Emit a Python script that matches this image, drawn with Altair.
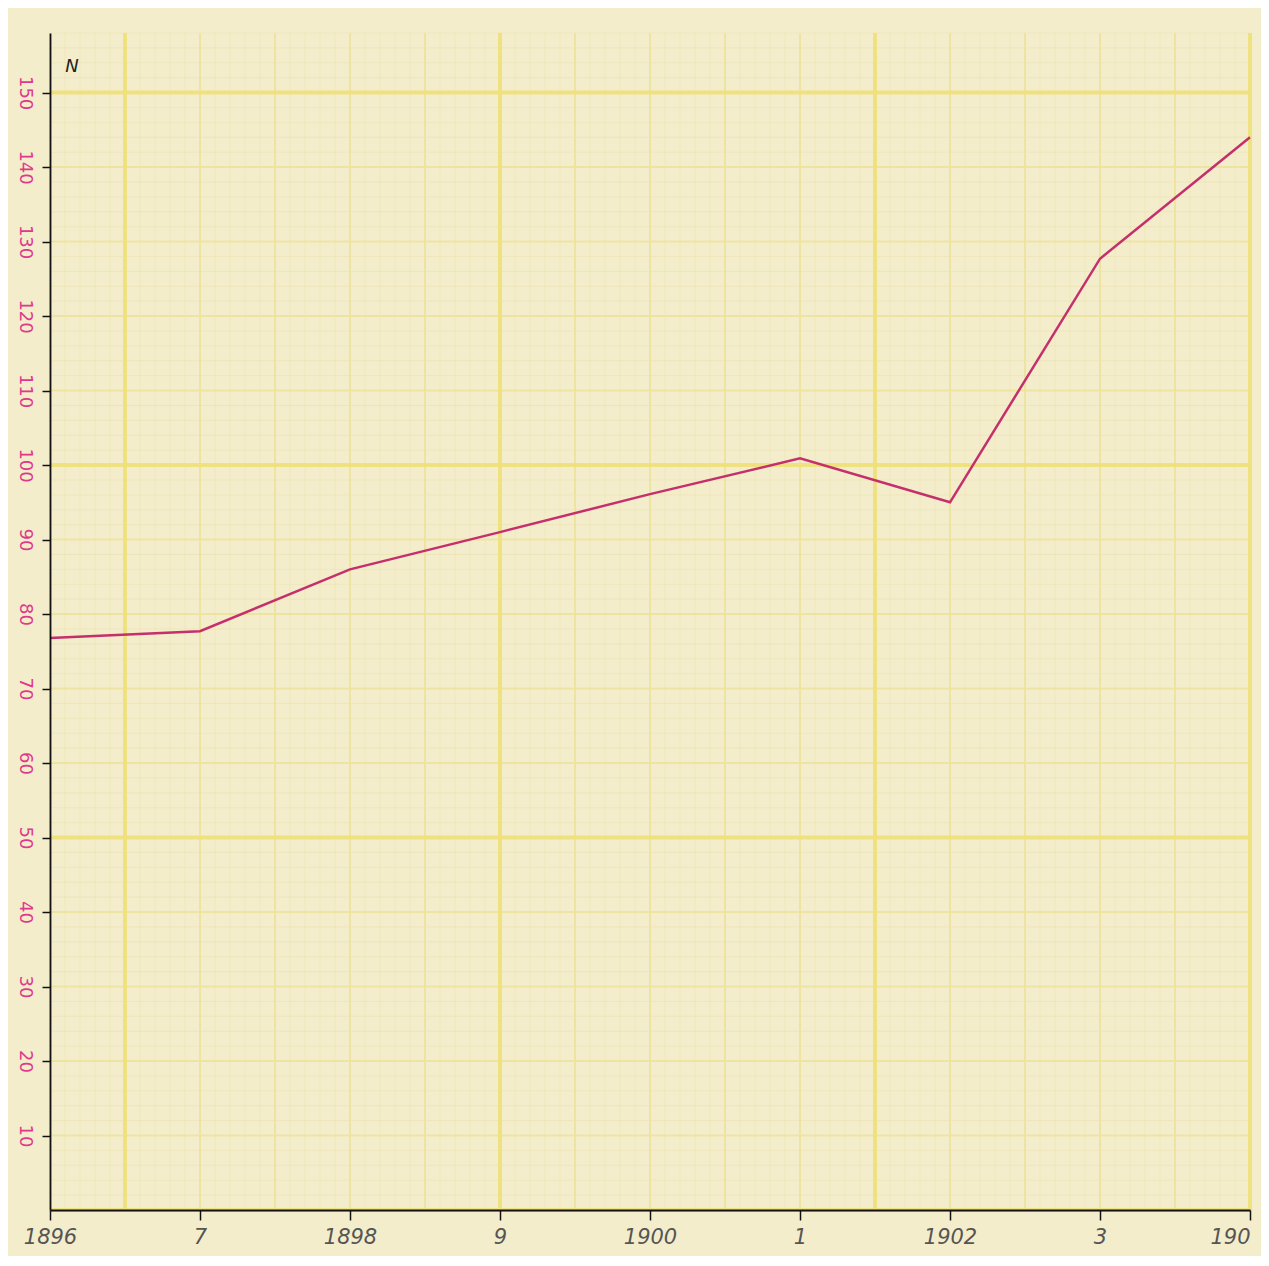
import altair as alt
import pandas as pd

# Data
years = [1896, 1897, 1898, 1899, 1900, 1901, 1902, 1903, 1904]
values = [76.8, 77.7, 86.0, 91.0, 96.1, 100.9, 95.0, 127.7, 144.0]
x_tick_labels = ["1896", "7", "1898", "9", "1900", "1", "1902", "3", "190"]
y_ticks = [10, 20, 30, 40, 50, 60, 70, 80, 90, 100, 110, 120, 130, 140, 150]

X_DOM = [1896, 1904]
Y_DOM = [0, 158]

df = pd.DataFrame({"year": years, "value": values})

xs = alt.Scale(domain=X_DOM, nice=False, zero=False)
ys = alt.Scale(domain=Y_DOM, nice=False, zero=True)

label_map = "{" + ",".join(f"'{y}':'{l}'" for y, l in zip(years, x_tick_labels)) + "}"

x_axis = alt.Axis(values=years, title=None, grid=False, zindex=2,
                  labelExpr=f"{label_map}[datum.value]",
                  labelAlign=alt.ExprRef(expr="datum.value == 1904 ? 'right' : 'center'"),
                  labelColor="#555555", labelFont="DejaVu Sans",
                  labelFontStyle="italic", labelFontSize=21,
                  labelPadding=6, tickColor="#111111", tickSize=10,
                  tickWidth=1.5, domainColor="#111111", domainWidth=1.8,
                  labelOverlap=False, labelFlush=False)
y_axis = alt.Axis(values=y_ticks, title=None, grid=False, zindex=2,
                  labelAngle=90, labelColor="#E0388C",
                  labelFont="DejaVu Sans", labelFontSize=18,
                  labelAlign="center", labelBaseline="middle",
                  labelPadding=18, tickColor="#111111", tickSize=8,
                  tickWidth=1.5, domainColor="#111111", domainWidth=1.8,
                  labelOverlap=False)

# graph paper lines (decoration)
fine_x = pd.DataFrame({"year": [1896 + i * 0.1 for i in range(81)]})
fine_y = pd.DataFrame({"value": [i * 2 for i in range(80)]})
mid_x = pd.DataFrame({"year": [1896 + i * 0.5 for i in range(17)]})
mid_y = pd.DataFrame({"value": [i * 10 for i in range(16)]})
bold_x = pd.DataFrame({"year": [1896.5, 1899.0, 1901.5, 1904.0]})
bold_y = pd.DataFrame({"value": [0, 50, 100, 150]})

def vrules(d, color, w, op):
    return alt.Chart(d).mark_rule(color=color, strokeWidth=w, opacity=op).encode(
        x=alt.X("year:Q", scale=xs, axis=x_axis))

def hrules(d, color, w, op):
    return alt.Chart(d).mark_rule(color=color, strokeWidth=w, opacity=op).encode(
        y=alt.Y("value:Q", scale=ys, axis=y_axis))

grid = [
    vrules(fine_x, "#E6DDA8", 1, 0.45),
    hrules(fine_y, "#E6DDA8", 1, 0.45),
    vrules(mid_x, "#EDE29A", 2, 0.8),
    hrules(mid_y, "#EDE29A", 2, 0.8),
    vrules(bold_x, "#EEE07A", 4, 0.9),
    hrules(bold_y, "#EEE07A", 4, 0.9),
]

line = alt.Chart(df).mark_line(color="#C42F6C", strokeWidth=2.5).encode(
    x=alt.X("year:Q", scale=xs, axis=x_axis),
    y=alt.Y("value:Q", scale=ys, axis=y_axis),
)

note = alt.Chart(pd.DataFrame({"t": ["N"]})).mark_text(
    fontSize=18, color="#222222", font="DejaVu Sans", fontStyle="italic"
).encode(x=alt.value(22), y=alt.value(34), text="t:N")

chart = alt.layer(*grid, line, note).properties(
    width=1200, height=1177,
    padding={"left": 42, "top": 25, "right": 11, "bottom": 46},
    autosize=alt.AutoSizeParams(type="none"),
    background="#F4EDCB",
).configure_view(stroke=None)

chart.save("out.html", embed_options={"renderer": "svg", "actions": False})
